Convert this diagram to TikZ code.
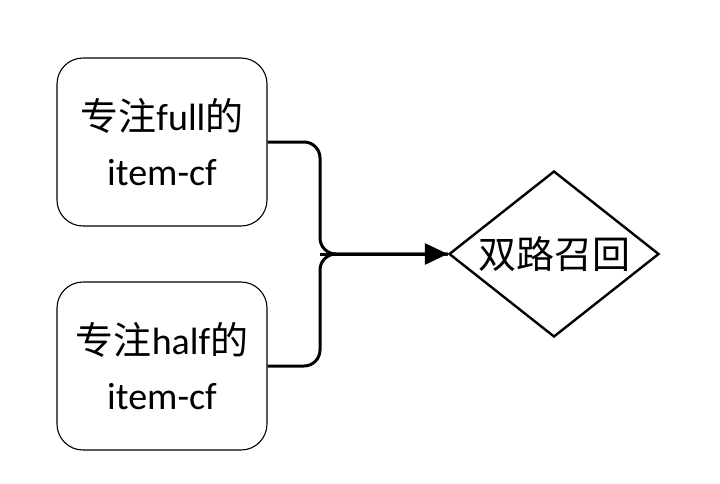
\documentclass[tikz,border=0pt]{standalone}
\usepackage{fontspec}
\setmainfont{Carlito}
\newfontfamily\cjk{Noto Sans CJK SC}
\usetikzlibrary{shapes.geometric,arrows.meta}
\begin{document}
\begin{tikzpicture}[x=1pt,y=-1pt,
  box/.style={draw,line width=1.1pt,rounded corners=26pt,minimum width=210pt,minimum height=168pt,align=center,font=\fontsize{38}{55}\selectfont,inner sep=0pt},
  conn/.style={line width=3pt,rounded corners=16pt},
  dia/.style={draw,diamond,aspect=1.26,line width=2.4pt,minimum width=210pt,minimum height=166pt,inner sep=0pt,font=\fontsize{38}{46}\selectfont}]
\useasboundingbox (0,0) rectangle (720,483);
\node[box] (b1) at (162,142) {{\cjk 专注}full{\cjk 的}\\item-cf};
\node[box] (b2) at (162,366) {{\cjk 专注}half{\cjk 的}\\item-cf};
\node[dia] (d) at (554,254) {\cjk 双路召回};
\coordinate (m) at (320,254);
\draw[conn] (b1.east) -| (m) -- (d.west);
\draw[conn] (b2.east) -| (m) -- (d.west);
\draw[line width=3pt,-{Triangle[length=23pt,width=21pt]}] (m) -- (d.west);
\end{tikzpicture}
\end{document}
